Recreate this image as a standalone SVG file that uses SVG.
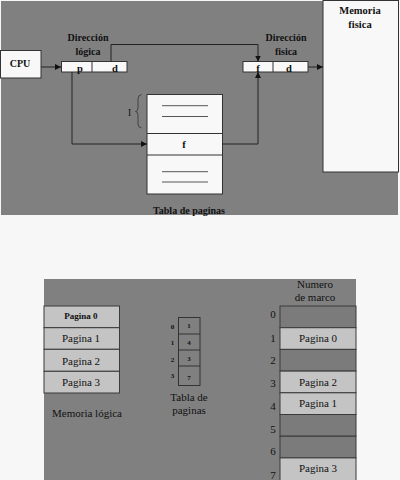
<svg xmlns="http://www.w3.org/2000/svg" width="400" height="480" viewBox="0 0 400 480">
<defs>
<marker id="ah" viewBox="0 0 10 10" refX="10" refY="5" markerWidth="6" markerHeight="6" markerUnits="userSpaceOnUse" orient="auto">
<path d="M0,0 L10,5 L0,10 z" fill="#111"/>
</marker>
<style>
.b{font-family:"Liberation Serif","DejaVu Serif",serif;font-weight:bold;fill:#111;text-anchor:middle}
.r{font-family:"Liberation Serif","DejaVu Serif",serif;fill:#111;text-anchor:middle}
.box{fill:#f8f8f8;stroke:#333;stroke-width:1}
.lg{fill:#c4c4c4;stroke:#3a3a3a;stroke-width:1}
.dk{fill:#7b7b7b;stroke:#3a3a3a;stroke-width:1}
.con{fill:none;stroke:#222;stroke-width:1}
.hl{stroke:#555;stroke-width:1}
</style>
</defs>
<rect x="0" y="0" width="400" height="480" fill="#f7f7f7"/>
<rect x="1" y="1" width="397" height="214" fill="#808080"/>
<rect x="44" y="279" width="312" height="201" fill="#808080"/>

<g id="cpu">
<rect class="box" x="0.5" y="50.5" width="40.5" height="27.5"/>
<text class="b" x="20" y="66.5" font-size="10">CPU</text>
</g>

<g id="dir-logica">
<text class="b" x="88" y="41" font-size="10">Dirección</text>
<text class="b" x="88" y="55" font-size="10">lógica</text>
<rect class="box" x="61.5" y="61.5" width="65.5" height="10.5"/>
<line x1="92" y1="61.5" x2="92" y2="72" stroke="#333"/>
<text class="b" x="80" y="72" font-size="10.5">p</text>
<text class="b" x="115" y="72" font-size="10.5">d</text>
</g>

<g id="dir-fisica">
<text class="b" x="286" y="41" font-size="10">Dirección</text>
<text class="b" x="286" y="55" font-size="10">fisica</text>
<rect class="box" x="243" y="61.5" width="65" height="10.5"/>
<line x1="273" y1="61.5" x2="273" y2="72" stroke="#333"/>
<text class="b" x="258" y="71.5" font-size="10.5">f</text>
<text class="b" x="289" y="71.5" font-size="10.5">d</text>
</g>

<g id="memoria-fisica">
<rect class="box" x="323" y="0.5" width="75.5" height="171.5"/>
<text class="b" x="360" y="14" font-size="10.5">Memoria</text>
<text class="b" x="360" y="28" font-size="10.5">fisica</text>
</g>

<g id="tabla-paginas">
<rect class="box" x="147" y="94.5" width="75.5" height="99.5"/>
<line x1="147" y1="133.5" x2="222.5" y2="133.5" stroke="#333"/>
<line x1="147" y1="155" x2="222.5" y2="155" stroke="#333"/>
<line class="hl" x1="162" y1="105.7" x2="208" y2="105.7"/>
<line class="hl" x1="162" y1="116.5" x2="208" y2="116.5"/>
<line class="hl" x1="162" y1="171.7" x2="208" y2="171.7"/>
<line class="hl" x1="162" y1="182" x2="208" y2="182"/>
<text class="b" x="184" y="148" font-size="10.5">f</text>
<path d="M141.5,94.5 Q138,95 138,99 L138,108 Q138,111.5 135.5,111.5 Q138,111.5 138,115 L138,124 Q138,127.5 141.5,128" fill="none" stroke="#333" stroke-width="0.8"/>
<text class="r" x="129.5" y="116" font-size="9.5">I</text>
<text class="b" x="189" y="214" font-size="10">Tabla de paginas</text>
</g>

<g id="connectors">
<line class="con" x1="41" y1="67" x2="61" y2="67" marker-end="url(#ah)"/>
<polyline class="con" points="111,61.5 111,44.5 258,44.5 258,61.5" marker-end="url(#ah)"/>
<polyline class="con" points="72,72 72,144 147,144" marker-end="url(#ah)"/>
<polyline class="con" points="222.5,144 258,144 258,72" marker-end="url(#ah)"/>
<line class="con" x1="308" y1="67" x2="323" y2="67" marker-end="url(#ah)"/>
</g>

<g id="memoria-logica">
<rect class="lg" x="44" y="306" width="75.5" height="21.7"/>
<rect class="lg" x="44" y="327.7" width="75.5" height="21.6"/>
<rect class="lg" x="44" y="349.3" width="75.5" height="22"/>
<rect class="lg" x="44" y="371.3" width="75.5" height="21.7"/>
<text class="b" x="81" y="319" font-size="9">Pagina 0</text>
<text class="r" x="81" y="341.5" font-size="11">Pagina 1</text>
<text class="r" x="81" y="364.5" font-size="11">Pagina 2</text>
<text class="r" x="81" y="386" font-size="11">Pagina 3</text>
<text class="r" x="87" y="416.5" font-size="11">Memoria lógica</text>
</g>

<g id="tabla-paginas-ejemplo">
<rect x="178.5" y="317.5" width="21.5" height="68" fill="#808080" stroke="#333"/>
<line x1="178.5" y1="334" x2="200" y2="334" stroke="#333"/>
<line x1="178.5" y1="350" x2="200" y2="350" stroke="#333"/>
<line x1="178.5" y1="366" x2="200" y2="366" stroke="#333"/>
<text class="b" x="189" y="328" font-size="7">1</text>
<text class="b" x="189" y="345" font-size="7">4</text>
<text class="b" x="189" y="361" font-size="7">3</text>
<text class="b" x="189" y="380" font-size="7">7</text>
<text class="b" x="172.5" y="329" font-size="7">0</text>
<text class="b" x="172.5" y="345" font-size="7">1</text>
<text class="b" x="172.5" y="362" font-size="7">2</text>
<text class="b" x="172.5" y="378" font-size="7">3</text>
<text class="r" x="189" y="400.5" font-size="11">Tabla de</text>
<text class="r" x="189" y="414" font-size="11">paginas</text>
</g>

<g id="memoria-marcos">
<text class="r" x="315" y="288" font-size="11">Numero</text>
<text class="r" x="315" y="301" font-size="11">de marco</text>
<rect class="dk" x="280" y="306" width="76" height="21.7"/>
<rect class="lg" x="280" y="327.7" width="76" height="21.7"/>
<rect class="dk" x="280" y="349.4" width="76" height="21.7"/>
<rect class="lg" x="280" y="371.1" width="76" height="21.7"/>
<rect class="lg" x="280" y="392.8" width="76" height="21.7"/>
<rect class="dk" x="280" y="414.5" width="76" height="21.7"/>
<rect class="dk" x="280" y="436.2" width="76" height="21.7"/>
<rect class="lg" x="280" y="457.9" width="76" height="23"/>
<text class="r" x="318" y="342" font-size="11">Pagina 0</text>
<text class="r" x="318" y="385.5" font-size="11">Pagina 2</text>
<text class="r" x="318" y="407" font-size="11">Pagina 1</text>
<text class="r" x="318" y="472" font-size="11">Pagina 3</text>
<text class="r" x="273" y="318" font-size="11">0</text>
<text class="r" x="273" y="342" font-size="11">1</text>
<text class="r" x="273" y="364" font-size="11">2</text>
<text class="r" x="273" y="387" font-size="11">3</text>
<text class="r" x="273" y="410" font-size="11">4</text>
<text class="r" x="273" y="433" font-size="11">5</text>
<text class="r" x="273" y="455" font-size="11">6</text>
<text class="r" x="273" y="479" font-size="11">7</text>
</g>
</svg>
